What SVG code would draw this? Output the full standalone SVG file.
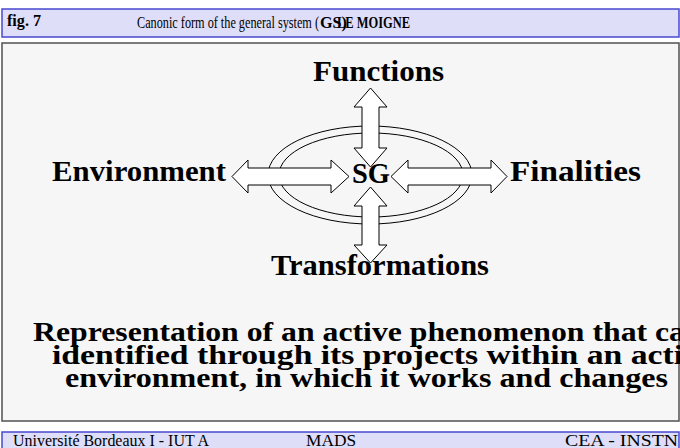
<svg xmlns="http://www.w3.org/2000/svg" width="680" height="448" viewBox="0 0 680 448">
<style>
.bar{fill:#dedef8;stroke:#4848d0;stroke-width:1.5}
.panel{fill:#f6f6f6;stroke:#505050;stroke-width:1.5}
.ell{fill:none;stroke:#000;stroke-width:1}
.arr{fill:#fff;stroke:#000;stroke-width:1}
.lbl{font-family:"Liberation Serif",serif;font-weight:bold;font-size:30px;fill:#000}
.big{font-family:"Liberation Serif",serif;font-weight:bold;font-size:27px;fill:#000}
.hd{font-family:"Liberation Serif",serif;font-size:16px;fill:#000}
.ft{font-family:"Liberation Serif",serif;font-size:16px;fill:#000}
</style>
<g id="header">
<rect class="bar" x="2" y="9" width="677" height="28"/>
<text class="hd" x="7" y="26" font-weight="bold" textLength="34" lengthAdjust="spacingAndGlyphs">fig. 7</text>
<text class="hd" x="137" y="28" textLength="182" lengthAdjust="spacingAndGlyphs">Canonic form of the general system (</text>
<text class="hd" x="320" y="28" font-weight="bold" textLength="27" lengthAdjust="spacingAndGlyphs">GS)</text>
<text class="hd" x="337" y="28" font-weight="bold" font-size="12px" textLength="73" lengthAdjust="spacingAndGlyphs">LE MOIGNE</text>
</g>
<g id="panel">
<rect class="panel" x="2" y="43" width="677" height="378"/>
</g>
<g id="system">
<ellipse class="ell" cx="370" cy="175" rx="102" ry="49"/>
<ellipse class="ell" cx="371" cy="175" rx="92" ry="42"/>
</g>
<g id="connectors">
<polygon class="arr" points="232,176.5 248,160 248,168 331,168 331,160 349,176.5 331,193 331,185 248,185 248,193"/>
<polygon class="arr" points="391,176.5 408,160 408,168 491,168 491,160 507,176.5 491,193 491,185 408,185 408,193"/>
<polygon class="arr" points="370.5,88 387,107 379,107 379,148 387,148 370.5,167 354,148 362,148 362,107 354,107"/>
<polygon class="arr" points="370.5,187 387,206 379,206 379,245 387,245 370.5,263 354,245 362,245 362,206 354,206"/>
</g>
<g id="sg"><text class="lbl" x="352" y="183" textLength="38" lengthAdjust="spacingAndGlyphs">SG</text></g>
<g id="functions"><text class="lbl" x="313" y="81" textLength="131" lengthAdjust="spacingAndGlyphs">Functions</text></g>
<g id="environment"><text class="lbl" x="52" y="181" textLength="174" lengthAdjust="spacingAndGlyphs">Environment</text></g>
<g id="finalities"><text class="lbl" x="510" y="181" textLength="131" lengthAdjust="spacingAndGlyphs">Finalities</text></g>
<g id="transformations"><text class="lbl" x="271" y="275" textLength="218" lengthAdjust="spacingAndGlyphs">Transformations</text></g>
<g id="description">
<text class="big" x="33" y="341" textLength="652" lengthAdjust="spacingAndGlyphs">Representation of an active phenomenon that ca</text>
<text class="big" x="52" y="364" textLength="631" lengthAdjust="spacingAndGlyphs">identified through its projects within an acti</text>
<text class="big" x="65" y="387" textLength="603" lengthAdjust="spacingAndGlyphs">environment, in which it works and changes</text>
</g>
<g id="footer">
<rect class="bar" x="2" y="432" width="677" height="20"/>
<text class="ft" x="13" y="446" textLength="196" lengthAdjust="spacingAndGlyphs">Université Bordeaux I - IUT A</text>
<text class="ft" x="306" y="446" textLength="50" lengthAdjust="spacingAndGlyphs">MADS</text>
<text class="ft" x="565" y="446" font-size="18px" textLength="113" lengthAdjust="spacingAndGlyphs">CEA - INSTN</text>
</g>
</svg>
